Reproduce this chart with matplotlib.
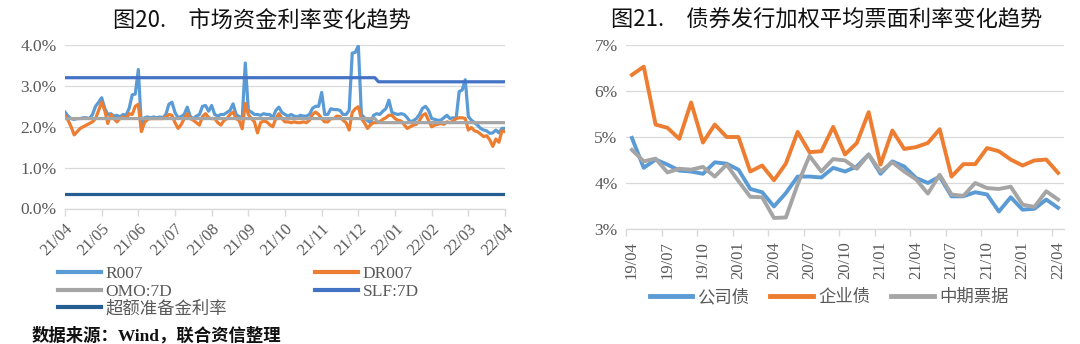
import numpy as np
import matplotlib
matplotlib.use("Agg")
import matplotlib.pyplot as plt

plt.rcParams['font.family'] = ['Liberation Serif', 'Noto Sans CJK SC']

# ---------------- Left chart data (month index 0 = 21/04 ... 12 = 22/04) ----------------
left_ticklabels = ["21/04", "21/05", "21/06", "21/07", "21/08", "21/09", "21/10",
                   "21/11", "21/12", "22/01", "22/02", "22/03", "22/04"]
r007 = [2.36, 2.26, 2.20, 2.18, 2.20, 2.20, 2.22, 2.22, 2.20, 2.30, 2.50, 2.60, 2.71, 2.45, 2.30,
        2.32, 2.26, 2.28, 2.24, 2.30, 2.28, 2.45, 2.78, 2.80, 3.40, 2.00, 2.22, 2.24, 2.22, 2.24,
        2.22, 2.24, 2.22, 2.30, 2.55, 2.60, 2.35, 2.22, 2.25, 2.30, 2.48, 2.25, 2.20, 2.26, 2.30,
        2.50, 2.52, 2.38, 2.52, 2.30, 2.26, 2.30, 2.30, 2.35, 2.40, 2.56, 2.30, 2.25, 2.20, 3.56,
        2.40, 2.36, 2.30, 2.30, 2.28, 2.32, 2.30, 2.30, 2.22, 2.40, 2.48, 2.35, 2.30, 2.26, 2.30,
        2.26, 2.24, 2.28, 2.26, 2.26, 2.30, 2.45, 2.50, 2.50, 2.84, 2.30, 2.30, 2.44, 2.42, 2.42,
        2.40, 2.30, 2.30, 2.40, 3.80, 3.82, 3.98, 2.30, 2.22, 2.15, 2.10, 2.28, 2.32, 2.30, 2.38,
        2.44, 2.65, 2.35, 2.32, 2.30, 2.32, 2.30, 2.22, 2.12, 2.15, 2.20, 2.30, 2.45, 2.50, 2.40,
        2.20, 2.18, 2.16, 2.16, 2.22, 2.28, 2.20, 2.22, 2.20, 2.86, 2.90, 3.15, 2.25, 2.16, 2.10,
        2.04, 1.96, 1.92, 1.90, 1.84, 1.85, 1.92, 1.85, 1.96, 1.96]
dr007 = [2.28, 2.16, 2.00, 1.80, 1.88, 1.96, 2.00, 2.04, 2.08, 2.12, 2.20, 2.40, 2.60, 2.40, 2.08,
         2.30, 2.20, 2.12, 2.20, 2.24, 2.20, 2.32, 2.30, 2.50, 2.55, 1.88, 2.10, 2.18, 2.20, 2.20,
         2.20, 2.20, 2.20, 2.24, 2.30, 2.28, 2.10, 1.96, 2.05, 2.20, 2.32, 2.20, 2.16, 2.10, 2.04,
         2.25, 2.32, 2.22, 2.20, 2.20, 2.10, 2.04, 2.15, 2.20, 2.30, 2.36, 2.20, 2.15, 1.95, 2.57,
         2.30, 2.20, 2.12, 1.85, 2.10, 2.14, 2.12, 2.05, 2.00, 2.20, 2.32, 2.20, 2.12, 2.12, 2.10,
         2.12, 2.10, 2.10, 2.12, 2.10, 2.16, 2.30, 2.36, 2.30, 2.20, 2.12, 2.12, 2.20, 2.20, 2.26,
         2.25, 2.16, 2.10, 1.92, 2.35, 2.44, 2.49, 2.20, 2.10, 1.96, 2.05, 2.10, 2.10, 2.12, 2.18,
         2.22, 2.28, 2.28, 2.20, 2.16, 2.14, 2.05, 1.96, 2.00, 2.04, 2.06, 2.15, 2.28, 2.32, 2.15,
         2.00, 2.04, 2.06, 2.08, 2.06, 2.12, 2.10, 2.14, 2.20, 2.22, 2.22, 2.20, 1.92, 1.98, 1.90,
         1.88, 1.82, 1.76, 1.78, 1.68, 1.52, 1.70, 1.62, 1.90, 1.88]
left_months = np.arange(len(r007)) / 12.0
policy_months = [0, 8.45, 8.55, 12.0]
omo_7d = [2.20, 2.20, 2.10, 2.10]
slf_7d = [3.20, 3.20, 3.10, 3.10]
excess_months = [0, 12.0]
excess_rate = [0.35, 0.35]

# ---------------- Right chart data (monthly 19/04 ... 22/04) ----------------
right_ticklabels = ["19/04", "19/07", "19/10", "20/01", "20/04", "20/07", "20/10",
                    "21/01", "21/04", "21/07", "21/10", "22/01", "22/04"]
corp_bond = [4.98, 4.33, 4.51, 4.40, 4.27, 4.25, 4.20, 4.45, 4.42, 4.29, 3.87, 3.80, 3.49,
             3.78, 4.14, 4.14, 4.12, 4.33, 4.25, 4.36, 4.62, 4.20, 4.47, 4.36, 4.11, 4.00,
             4.14, 3.71, 3.71, 3.80, 3.75, 3.38, 3.69, 3.42, 3.44, 3.64, 3.46]
ent_bond = [6.35, 6.53, 5.27, 5.20, 4.96, 5.75, 4.88, 5.27, 5.00, 5.00, 4.25, 4.38, 4.06,
            4.42, 5.11, 4.67, 4.69, 5.22, 4.62, 4.87, 5.54, 4.40, 5.14, 4.74, 4.78, 4.87,
            5.17, 4.14, 4.41, 4.41, 4.76, 4.69, 4.51, 4.38, 4.49, 4.51, 4.22]
mtn = [4.72, 4.47, 4.53, 4.23, 4.31, 4.29, 4.35, 4.14, 4.40, 4.04, 3.70, 3.69, 3.24,
       3.25, 3.97, 4.59, 4.25, 4.52, 4.49, 4.31, 4.62, 4.25, 4.45, 4.25, 4.08, 3.77,
       4.18, 3.75, 3.72, 4.00, 3.89, 3.87, 3.92, 3.53, 3.48, 3.82, 3.64]
right_idx = np.arange(len(corp_bond))

# ---------------- styling ----------------
C_R007 = '#5B9BD5'
C_DR007 = '#ED7D31'
C_OMO = '#A5A5A5'
C_SLF = '#4472C4'
C_EXC = '#255E91'
GRID = '#D9D9D9'
TXT = '#595959'
SERIF_CJK = ['Liberation Serif', 'Noto Sans CJK SC']

W, H = 1080, 344
fig = plt.figure(figsize=(W / 100, H / 100), dpi=100)

def box(x0, x1, ytop, ybot):
    return [x0 / W, 1 - ybot / H, (x1 - x0) / W, (ybot - ytop) / H]

def style_axis(ax):
    for s in ['left', 'right', 'top']:
        ax.spines[s].set_visible(False)
    ax.spines['bottom'].set_color(GRID)
    ax.spines['bottom'].set_linewidth(1.0)
    ax.yaxis.grid(True, color=GRID, linewidth=0.9)
    ax.set_axisbelow(True)
    ax.tick_params(axis='y', length=0, labelsize=12.5, labelcolor=TXT, pad=6)
    for lab in ax.get_yticklabels():
        lab.set_family(SERIF_CJK)

# ---------------- left chart ----------------
axL = fig.add_axes(box(65, 505, 45, 208.5))
lw = 2.3
l1, = axL.plot(left_months, r007, color=C_R007, lw=lw, solid_joinstyle='round', zorder=3)
l2, = axL.plot(left_months, dr007, color=C_DR007, lw=lw, solid_joinstyle='round', zorder=4)
l3, = axL.plot(policy_months, omo_7d, color=C_OMO, lw=lw, zorder=5)
l4, = axL.plot(policy_months, slf_7d, color=C_SLF, lw=lw, zorder=5)
l5, = axL.plot(excess_months, excess_rate, color=C_EXC, lw=lw, zorder=5)
axL.set_xlim(0, 12)
axL.set_ylim(0, 4.0)
axL.set_yticks([0, 1, 2, 3, 4])
axL.set_yticklabels(['0.0%', '1.0%', '2.0%', '3.0%', '4.0%'])
style_axis(axL)
axL.set_xticks(np.arange(13))
axL.set_xticklabels(left_ticklabels, rotation=45, ha='right', va='top',
                    rotation_mode='anchor', family=SERIF_CJK, fontsize=12, color=TXT)
axL.tick_params(axis='x', length=5, color=GRID, width=1.0, pad=4)

fig.text(262 / W, 1 - 20 / H, '图20.\u3000市场资金利率变化趋势', ha='center', va='center',
         fontsize=16, family=['Noto Sans CJK SC'], color='#111111')

leg_kw = dict(frameon=False, prop={'family': SERIF_CJK, 'size': 12.5}, handlelength=2.45,
              handletextpad=0.3, labelspacing=0.08, borderpad=0, borderaxespad=0,
              labelcolor=TXT)
legA = fig.legend([l1, l3, l5], ['R007', 'OMO:7D', '超额准备金利率'], loc='upper left',
                  bbox_to_anchor=(58 / W, 1 - 266 / H), **leg_kw)
legB = fig.legend([l2, l4], ['DR007', 'SLF:7D'], loc='upper left',
                  bbox_to_anchor=(315 / W, 1 - 266 / H), **leg_kw)
for lg in (legA, legB):
    for h in lg.legend_handles:
        h.set_linewidth(3.0)

fig.text(32 / W, 1 - 336 / H, '数据来源：Wind，联合资信整理', ha='left', va='center',
         fontsize=12.5, family=SERIF_CJK, weight='bold', color='#111111')

# ---------------- right chart ----------------
axR = fig.add_axes(box(626, 1064, 45, 229))
lw2 = 2.8
r1, = axR.plot(right_idx, corp_bond, color=C_R007, lw=lw2, zorder=3)
r2, = axR.plot(right_idx, ent_bond, color=C_DR007, lw=lw2, zorder=3)
r3, = axR.plot(right_idx, mtn, color=C_OMO, lw=lw2, zorder=3)
axR.set_xlim(-0.5, len(corp_bond) - 0.5)
axR.set_ylim(3, 7)
axR.set_yticks([3, 4, 5, 6, 7])
axR.set_yticklabels(['3%', '4%', '5%', '6%', '7%'])
style_axis(axR)
axR.set_xticks(np.arange(0, 37, 3))
axR.set_xticklabels(right_ticklabels, rotation=90, ha='center', va='top',
                    family=SERIF_CJK, fontsize=12, color=TXT)
axR.tick_params(axis='x', which='major', length=0, pad=9)
axR.set_xticks(np.arange(0, 37, 3) - 0.5, minor=True)
axR.tick_params(axis='x', which='minor', length=5, color=GRID, width=1.0)

fig.text(827 / W, 1 - 20 / H, '图21.\u3000债券发行加权平均票面利率变化趋势', ha='center', va='center',
         fontsize=16, family=['Noto Sans CJK SC'], color='#111111')

legR = fig.legend([r1, r2, r3], ['公司债', '企业债', '中期票据'], loc='center',
                  bbox_to_anchor=(829 / W, 1 - 298 / H), ncol=3, columnspacing=1.2,
                  **leg_kw)
for h in legR.legend_handles:
    h.set_linewidth(3.5)

fig.savefig('out.png', dpi=100)
